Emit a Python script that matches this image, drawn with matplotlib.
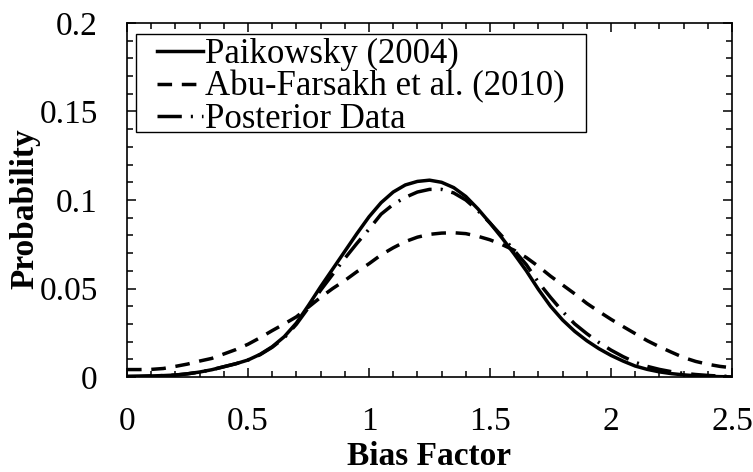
import matplotlib
matplotlib.use("Agg")
import matplotlib.pyplot as plt
from matplotlib.patches import Rectangle
from matplotlib.ticker import MultipleLocator, FormatStrFormatter
import numpy as np

# bias factor grid (step 0.05)
bias = np.round(np.arange(0, 2.5001, 0.05), 2)

paikowsky = [
    0.0003, 0.0004, 0.0006, 0.0008, 0.0011, 0.0018, 0.0028, 0.0041, 0.0058, 0.0075,
    0.0096, 0.0128, 0.0171, 0.0228, 0.0305, 0.0405, 0.0510, 0.0610, 0.0710, 0.0810,
    0.0905, 0.0985, 0.1045, 0.1085, 0.1105, 0.1112, 0.1100, 0.1070, 0.1020, 0.0950,
    0.0870, 0.0785, 0.0695, 0.0600, 0.0495, 0.0400, 0.0322, 0.0258, 0.0205, 0.0160,
    0.0122, 0.0090, 0.0062, 0.0043, 0.0029, 0.0019, 0.0012, 0.0007, 0.0004, 0.0002,
    0.0001,
]

abu_farsakh = [
    0.0042, 0.0042, 0.0043, 0.0048, 0.0060, 0.0073, 0.0090, 0.0105, 0.0130, 0.0155,
    0.0185, 0.0222, 0.0262, 0.0300, 0.0340, 0.0395, 0.0450, 0.0500, 0.0545, 0.0595,
    0.0640, 0.0690, 0.0730, 0.0765, 0.0790, 0.0806, 0.0813, 0.0815, 0.0810, 0.0795,
    0.0775, 0.0748, 0.0716, 0.0675, 0.0625, 0.0570, 0.0520, 0.0470, 0.0416, 0.0370,
    0.0326, 0.0285, 0.0245, 0.0205, 0.0171, 0.0140, 0.0110, 0.0088, 0.0072, 0.0060,
    0.0052,
]

posterior = [
    0.0003, 0.0004, 0.0006, 0.0008, 0.0011, 0.0018, 0.0028, 0.0041, 0.0058, 0.0075,
    0.0096, 0.0126, 0.0168, 0.0222, 0.0298, 0.0392, 0.0490, 0.0580, 0.0670, 0.0755,
    0.0835, 0.0920, 0.0975, 0.1015, 0.1045, 0.1060, 0.1060, 0.1040, 0.1000, 0.0940,
    0.0870, 0.0795, 0.0715, 0.0635, 0.0535, 0.0450, 0.0370, 0.0300, 0.0245, 0.0195,
    0.0152, 0.0115, 0.0083, 0.0060, 0.0043, 0.0030, 0.0021, 0.0014, 0.0009, 0.0005,
    0.0003,
]

labels = ["Paikowsky (2004)", "Abu-Farsakh et al. (2010)", "Posterior Data"]

plt.rcParams["font.family"] = ["Liberation Serif", "DejaVu Serif"]
fontsize = 24

fig = plt.figure(figsize=(7.53, 4.72), dpi=100)
ax = fig.add_axes([127 / 753, 1 - 377 / 472, 605 / 753, 354 / 472])

lw = 2.5
ax.plot(bias, paikowsky, color="black", linewidth=lw, linestyle="-", label=labels[0])
ax.plot(bias, abu_farsakh, color="black", linewidth=lw, linestyle=(0, (4.2, 2.8)), label=labels[1])
ax.plot(bias, posterior, color="black", linewidth=lw, linestyle=(0, (7.0, 2.6, 0.6, 2.6)), label=labels[2])

ax.set_xlim(0, 2.5)
ax.set_ylim(0, 0.2)
ax.xaxis.set_major_locator(MultipleLocator(0.5))
ax.xaxis.set_minor_locator(MultipleLocator(0.1))
ax.yaxis.set_major_locator(MultipleLocator(0.05))
ax.yaxis.set_minor_locator(MultipleLocator(0.01))
ax.xaxis.set_major_formatter(FormatStrFormatter("%g"))
ax.yaxis.set_major_formatter(FormatStrFormatter("%g"))

ax.tick_params(which="both", direction="in", top=True, right=True, width=1.1,
               labelsize=fontsize, pad=21)
ax.tick_params(which="major", length=6.5)
ax.tick_params(which="minor", length=4.5)
for spine in ax.spines.values():
    spine.set_linewidth(1.2)

ax.set_xlabel("Bias Factor", fontsize=fontsize, fontweight="bold")
ax.set_ylabel("Probability", fontsize=fontsize, fontweight="bold")
ax.xaxis.set_label_coords(0.5, -0.18)
ax.yaxis.set_label_coords(-0.143, 0.475)

# legend entries without their own frame; the box is drawn separately
leg = ax.legend(
    loc="upper left",
    bbox_to_anchor=(0.049, 0.958),
    fontsize=25,
    frameon=False,
    handlelength=1.33,
    handletextpad=0.05,
    labelspacing=-0.01,
    borderpad=0,
    borderaxespad=0,
)
ax.add_patch(Rectangle((0.015, 0.692), 0.744, 0.277, transform=ax.transAxes,
                       facecolor="white", edgecolor="black", linewidth=1.0, zorder=4))
leg.set_zorder(5)

fig.savefig("out.png", dpi=100)
